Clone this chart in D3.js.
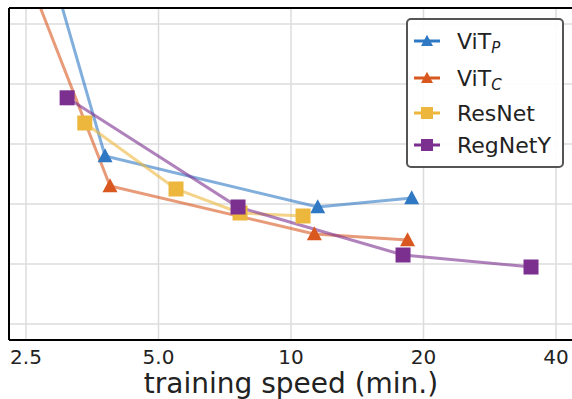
<!DOCTYPE html>
<html>
<head>
<meta charset="utf-8">
<script src="https://d3js.org/d3.v7.min.js"></script>
<style>
  body { margin: 0; background: #fff; }
  text { font-family: "DejaVu Sans", sans-serif; }
</style>
</head>
<body>
<div id="chart"></div>
<script>
// ---- data (training speed in min., y in grid units; no y labels visible) ----
var seriesNames = ["ViT_P", "ViT_C", "ResNet", "RegNetY"];
var vitPSpeed = [2.55, 3.78, 11.5, 18.8];
var vitPValue = [7.15, 2.80, 1.95, 2.10];
var vitCSpeed = [2.45, 3.88, 11.3, 18.4];
var vitCValue = [6.05, 2.30, 1.50, 1.40];
var resnetSpeed = [3.40, 5.48, 7.66, 10.65];
var resnetValue = [3.35, 2.25, 1.85, 1.80];
var regnetSpeed = [3.10, 7.58, 17.97, 35.1];
var regnetValue = [3.77, 1.95, 1.15, 0.95];
var xTicks = [2.5, 5, 10, 20, 40];
var xTickLabels = ["2.5", "5.0", "10", "20", "40"];
var yTicks = [0, 1, 2, 3, 4, 5];

var colors = {ViT_P: "#2f78c4", ViT_C: "#d9581f", ResNet: "#ecb73c", RegNetY: "#7b2f8f"};
var shapes = {ViT_P: "tri", ViT_C: "tri", ResNet: "sq", RegNetY: "sq"};

var series = [
  {name: "ViT_P", xs: vitPSpeed, ys: vitPValue},
  {name: "ViT_C", xs: vitCSpeed, ys: vitCValue},
  {name: "ResNet", xs: resnetSpeed, ys: resnetValue},
  {name: "RegNetY", xs: regnetSpeed, ys: regnetValue}
].map(function(s) {
  return {name: s.name, pts: s.xs.map(function(v, i) { return [v, s.ys[i]]; })};
});

var W = 572, H = 399;
var pLeft = 9, pTop = 8, pBottom = 340, pRight = 640;

var svg = d3.select("#chart").append("svg")
  .attr("width", W).attr("height", H);

var x = d3.scaleLog().domain([2.5, 40]).range([26, 556]);
var y = d3.scaleLinear().domain([0, 5]).range([324, 24]);

svg.append("defs").append("clipPath").attr("id", "clip")
  .append("rect").attr("x", pLeft).attr("y", pTop)
  .attr("width", pRight - pLeft).attr("height", pBottom - pTop);

// grid
var grid = svg.append("g").attr("clip-path", "url(#clip)");
grid.selectAll(".gx").data(xTicks).enter().append("line")
  .attr("x1", function(d) { return x(d); }).attr("x2", function(d) { return x(d); })
  .attr("y1", pTop).attr("y2", pBottom)
  .attr("stroke", "#dcdcdc").attr("stroke-width", 1.5);
grid.selectAll(".gy").data(yTicks).enter().append("line")
  .attr("x1", pLeft).attr("x2", pRight)
  .attr("y1", function(d) { return y(d); }).attr("y2", function(d) { return y(d); })
  .attr("stroke", "#dcdcdc").attr("stroke-width", 1.5);

// lines + markers
var plot = svg.append("g").attr("clip-path", "url(#clip)");
var line = d3.line().x(function(d) { return x(d[0]); }).y(function(d) { return y(d[1]); });

function marker(g, kind, cx, cy, s, col) {
  if (kind === "tri") {
    var h = s * 0.93;
    g.append("path")
      .attr("d", "M" + cx + "," + (cy - h * 0.55) + "L" + (cx + s / 2) + "," + (cy + h * 0.45) +
                 "L" + (cx - s / 2) + "," + (cy + h * 0.45) + "Z")
      .attr("fill", col);
  } else {
    g.append("rect").attr("x", cx - s / 2).attr("y", cy - s / 2)
      .attr("width", s).attr("height", s).attr("fill", col);
  }
}

series.forEach(function(s) {
  plot.append("path").datum(s.pts)
    .attr("d", line).attr("fill", "none")
    .attr("stroke", colors[s.name]).attr("stroke-opacity", 0.6)
    .attr("stroke-width", 3);
});
series.forEach(function(s) {
  s.pts.forEach(function(p) {
    marker(plot, shapes[s.name], x(p[0]), y(p[1]), shapes[s.name] === "tri" ? 15 : 15, colors[s.name]);
  });
});

// spines
svg.append("line").attr("x1", pLeft).attr("x2", W).attr("y1", pTop).attr("y2", pTop)
  .attr("stroke", "#000").attr("stroke-width", 2);
svg.append("line").attr("x1", pLeft).attr("x2", W).attr("y1", pBottom).attr("y2", pBottom)
  .attr("stroke", "#000").attr("stroke-width", 2);
svg.append("line").attr("x1", pLeft).attr("x2", pLeft).attr("y1", pTop).attr("y2", pBottom)
  .attr("stroke", "#000").attr("stroke-width", 2);

// x tick labels
svg.selectAll(".xl").data(xTicks).enter().append("text")
  .attr("x", function(d) { return x(d); }).attr("y", 364)
  .attr("text-anchor", "middle").attr("font-size", 20).attr("fill", "#222")
  .text(function(d, i) { return xTickLabels[i]; });

svg.append("text").attr("x", 291).attr("y", 393)
  .attr("text-anchor", "middle").attr("font-size", 28).attr("fill", "#222")
  .text("training speed (min.)");

// legend
var lg = svg.append("g");
lg.append("rect").attr("x", 407).attr("y", 19).attr("width", 156).attr("height", 148)
  .attr("rx", 4).attr("fill", "#fff").attr("fill-opacity", 0.9)
  .attr("stroke", "#555").attr("stroke-width", 2);
var ly = [41, 78, 113, 145];
series.forEach(function(s, i) {
  lg.append("line").attr("x1", 414).attr("x2", 440).attr("y1", ly[i]).attr("y2", ly[i])
    .attr("stroke", colors[s.name]).attr("stroke-width", 3);
  marker(lg, shapes[s.name], 427, ly[i], 12, colors[s.name]);
  var t = lg.append("text").attr("x", 457).attr("y", ly[i] + 8)
    .attr("font-size", 22).attr("fill", "#222");
  if (s.name === "ViT_P" || s.name === "ViT_C") {
    t.append("tspan").text("ViT");
    t.append("tspan").attr("font-size", 15).attr("font-style", "italic")
      .attr("dy", 4).text(s.name === "ViT_P" ? "P" : "C");
  } else {
    t.text(s.name);
  }
});
</script>
</body>
</html>
